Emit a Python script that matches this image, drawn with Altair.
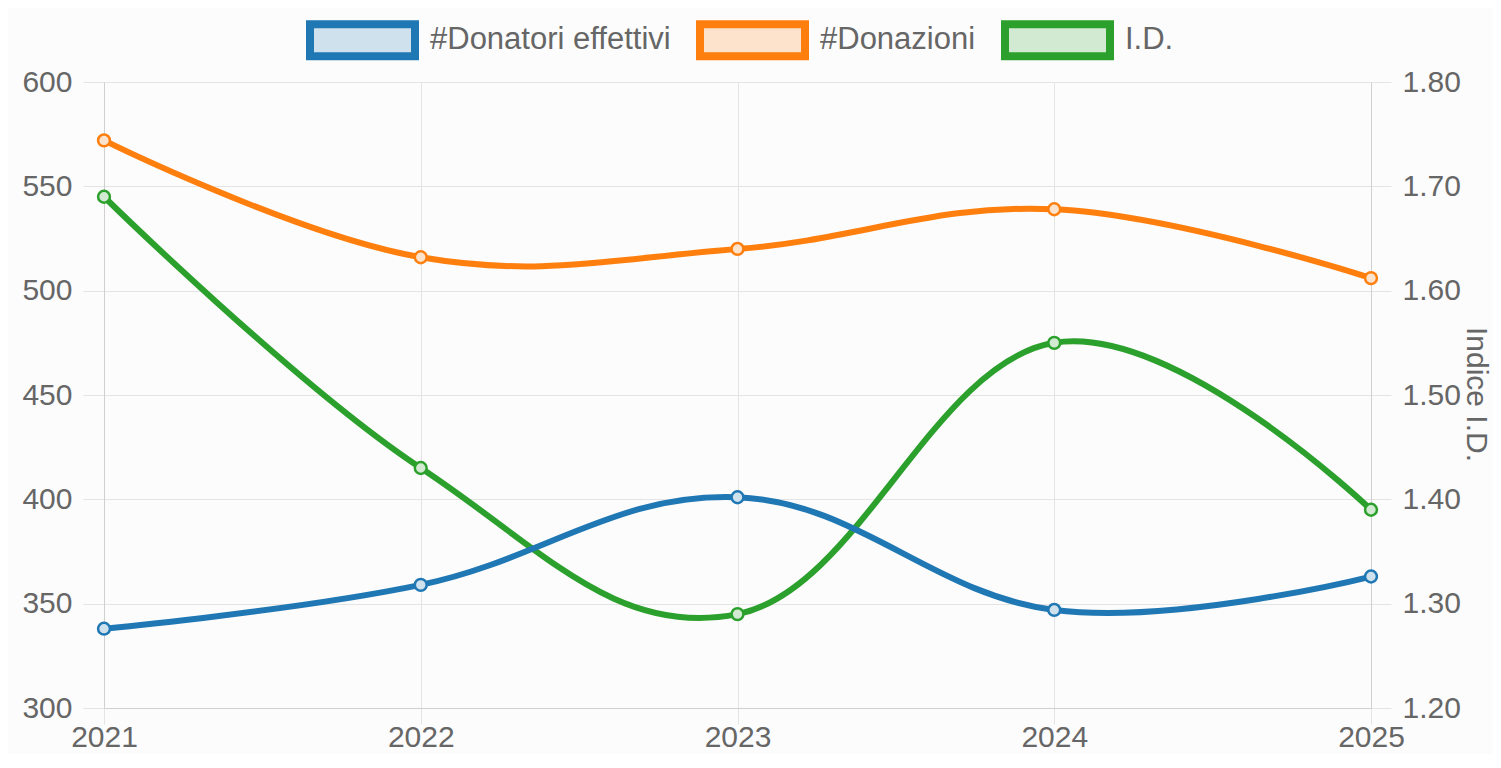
import altair as alt
import pandas as pd

# ---- data ----
years = [2021, 2022, 2023, 2024, 2025]
donatori = [338, 359, 401, 347, 363]
donazioni = [572, 516, 520, 539, 506]
indice = [1.69, 1.43, 1.29, 1.55, 1.39]

series_names = ["#Donatori effettivi", "#Donazioni", "I.D."]
series_colors = ["#1f77b4", "#ff7f0e", "#2ca02c"]
series_fills = ["#d0e1ee", "#fde3cc", "#d2ead2"]
left_ticks = [300, 350, 400, 450, 500, 550, 600]
right_ticks = [1.2, 1.3, 1.4, 1.5, 1.6, 1.7, 1.8]
right_title = "Indice I.D."

rows = []
for name, vals in zip(series_names, [donatori, donazioni, indice]):
    for yr, v in zip(years, vals):
        rows.append({"anno": yr, "valore": v, "serie": name})
df = pd.DataFrame(rows)

FONT = "Liberation Sans"
TXT = "#666666"
GRID = "#e4e4e4"
DOMAIN = "#d0d0d0"
FS = 30

stroke_scale = alt.Scale(domain=series_names, range=series_colors)
fill_scale = alt.Scale(domain=series_names, range=series_fills)


def make_legend():
    return alt.Legend(
        orient="none", direction="horizontal", title=None,
        legendX=202, legendY=-98.5, padding=0,
        symbolType="M-1,-0.305H1V0.305H-1Z", symbolSize=11025, symbolStrokeWidth=8,
        labelFontSize=31, labelColor=TXT, labelFont=FONT, labelOffset=11,
        labelLimit=600, columnPadding=13, symbolOpacity=1,
    )


stroke_enc = alt.Stroke("serie:N", scale=stroke_scale, legend=make_legend(), sort=series_names)
fill_enc = alt.Fill("serie:N", scale=fill_scale, legend=make_legend(), sort=series_names)

x_enc = alt.X(
    "anno:Q",
    scale=alt.Scale(domain=[2021, 2025], nice=False, zero=False),
    axis=alt.Axis(values=years, format="d", title=None, grid=True,
                  gridColor=GRID, tickColor=GRID, tickSize=16, domainColor=DOMAIN,
                  labelFontSize=FS, labelColor=TXT, labelFont=FONT,
                  labelPadding=22, labelBaseline="alphabetic",
                  labelFlush=False, labelOverlap=False),
)

y_left = alt.Y(
    "valore:Q",
    scale=alt.Scale(domain=[300, 600], nice=False, zero=False),
    axis=alt.Axis(orient="left", values=left_ticks, title=None, grid=True,
                  gridColor=GRID, tickColor=GRID, tickSize=21, labelPadding=11,
                  domainColor=DOMAIN, labelFontSize=FS, labelColor=TXT,
                  labelFont=FONT, labelFlush=False),
)

y_right = alt.Y(
    "valore:Q",
    scale=alt.Scale(domain=[1.2, 1.8], nice=False, zero=False),
    axis=alt.Axis(orient="right", values=right_ticks, format=".2f", title=right_title,
                  grid=False, tickColor=GRID, tickSize=20, labelPadding=11,
                  domainColor=DOMAIN, labelFontSize=FS, labelColor=TXT,
                  labelFont=FONT, labelFlush=False,
                  titleX=95, titleY=312, titleAngle=90, titleAlign="center",
                  titleBaseline="alphabetic", titleFontSize=FS, titleColor=TXT,
                  titleFont=FONT, titleFontWeight="normal"),
)

line_kw = dict(interpolate="cardinal", tension=-0.15, strokeWidth=6)
pt_kw = dict(filled=True, size=140, strokeWidth=2.5, opacity=1)

base_left = alt.Chart(df).transform_filter(
    alt.FieldOneOfPredicate(field="serie", oneOf=series_names[:2]))
left = alt.layer(
    base_left.mark_line(**line_kw).encode(x=x_enc, y=y_left, stroke=stroke_enc),
    base_left.mark_point(**pt_kw).encode(x=x_enc, y=y_left, fill=fill_enc, stroke=stroke_enc),
)

base_right = alt.Chart(df).transform_filter(
    alt.FieldEqualPredicate(field="serie", equal=series_names[2]))
right = alt.layer(
    base_right.mark_line(**line_kw).encode(x=x_enc, y=y_right, stroke=stroke_enc),
    base_right.mark_point(**pt_kw).encode(x=x_enc, y=y_right, fill=fill_enc, stroke=stroke_enc),
)

chart = alt.layer(right, left).resolve_scale(y="independent").properties(
    width=1267, height=626,
    padding={"left": 96, "top": 74, "right": 122, "bottom": 46},
    autosize=alt.AutoSizeParams(type="none"),
    background="#fcfcfc",
).configure_view(strokeWidth=0)

chart.save("out.html", embed_options={"renderer": "svg", "actions": False})
